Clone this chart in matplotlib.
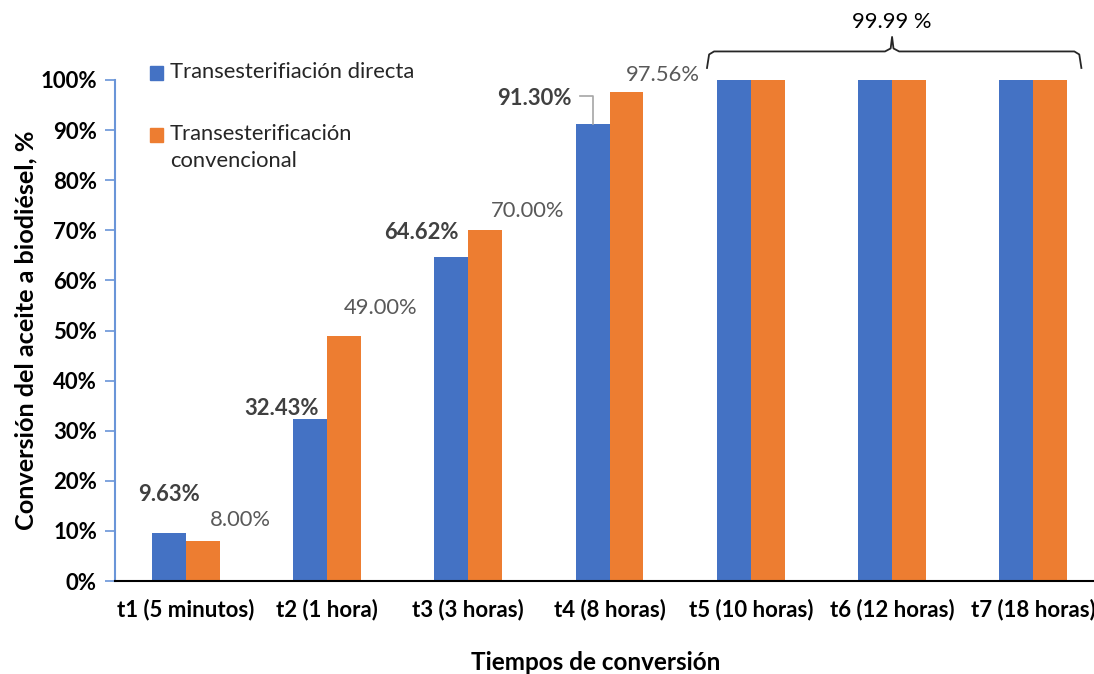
import matplotlib
matplotlib.use("Agg")
import matplotlib.pyplot as plt
from matplotlib.patches import Rectangle
import numpy as np

plt.rcParams['font.family'] = ['Lato', 'DejaVu Sans']

categories = ["t1 (5 minutos)", "t2 (1 hora)", "t3 (3 horas)", "t4 (8 horas)",
              "t5 (10 horas)", "t6 (12 horas)", "t7 (18 horas)"]
directa = [9.63, 32.43, 64.62, 91.30, 99.99, 99.99, 99.99]
convencional = [8.00, 49.00, 70.00, 97.56, 99.99, 99.99, 99.99]
series_names = ["Transesterifiación directa", "Transesterificación\nconvencional"]
yticks = [0, 10, 20, 30, 40, 50, 60, 70, 80, 90, 100]

blue = "#4472C4"
orange = "#ED7D31"
label_gray = "#404040"
text_gray = "#595959"
W, H = 1094, 674

fig = plt.figure(figsize=(W / 100, H / 100), dpi=100)
ax = fig.add_axes([115 / W, 1 - 581 / H, 989 / W, 501 / H])

x = np.arange(len(categories))
w = 0.24
ax.bar(x - w / 2, directa, w, color=blue)
ax.bar(x + w / 2, convencional, w, color=orange)

ax.set_xlim(-0.5, len(categories) - 0.5)
ax.set_ylim(0, 100)
ax.set_yticks(yticks)
ax.set_yticklabels([f"{v}%" for v in yticks], fontsize=16, fontweight='bold')
ax.set_xticks(x)
ax.set_xticklabels(categories, fontsize=16, fontweight='bold')
ax.tick_params(axis='x', length=0, pad=13)
ax.tick_params(axis='y', length=7, color="#6A95D8", width=1.2, pad=6)

for s in ['top', 'right']:
    ax.spines[s].set_visible(False)
ax.spines['left'].set_color("#6A95D8")
ax.spines['left'].set_linewidth(1.5)
ax.spines['bottom'].set_color("black")
ax.spines['bottom'].set_linewidth(1.5)

ax.set_ylabel("Conversión del aceite a biodiésel, %", fontsize=18.2, fontweight='bold')
ax.yaxis.set_label_coords((37 - 115) / 989, 0.5)
ax.set_xlabel("Tiempos de conversión", fontsize=17.5, fontweight='bold')
ax.xaxis.set_label_coords((596 - 115) / 989, (581 - 651) / 501)

# value labels for the first four times
dir_pos = [(-0.118, 17.2), (0.68, 34.5), (1.67, 69.5), (2.47, 96.4)]
conv_pos = [(0.39, 12.2), (1.38, 54.5), (2.42, 73.9), (3.38, 101.0)]
for (px, py), v in zip(dir_pos, directa[:4]):
    ax.text(px, py, f"{v:.2f}%", ha='center', va='center', fontsize=15.8,
            fontweight='bold', color=label_gray, clip_on=False)
for (px, py), v in zip(conv_pos, convencional[:4]):
    ax.text(px, py, f"{v:.2f}%", ha='center', va='center', fontsize=15.8,
            color=text_gray, clip_on=False)

# leader line for the 91.30% label
lx = x[3] - w / 2
ax.plot([lx, lx, 2.79], [directa[3], 96.8, 96.8], color="#A6A6A6", lw=1.2,
        clip_on=False)

# brace grouping t5-t7
def brace(ax, x0, x1, xm, ybase, ytop, ytip):
    r = 0.05
    xs = [x0, x0 + r * 0.3, x0 + r, xm - r, xm - r * 0.2, xm,
          xm + r * 0.2, xm + r, x1 - r, x1 - r * 0.3, x1]
    ys = [ybase, ytop - 0.6, ytop, ytop, ytop + 0.6, ytip,
          ytop + 0.6, ytop, ytop, ytop - 0.6, ybase]
    ax.plot(xs, ys, color="#262626", lw=1.3, clip_on=False,
            solid_joinstyle='round')

brace(ax, 3.69, 6.34, 5.0, 102.4, 105.7, 108.6)
ax.text(5.0, 111.6, "99.99 %", ha='center', va='center', fontsize=15.8,
        color="black", clip_on=False)

# legend: colour squares with labels
legend_rows = [(73, blue, series_names[0]), (135, orange, series_names[1])]
for yc, col, name in legend_rows:
    fig.patches.append(Rectangle((150 / W, 1 - (yc + 7) / H), 13 / W, 14 / H,
                                 transform=fig.transFigure, color=col))
    fig.text(170 / W, 1 - (yc - 11) / H, name, ha='left', va='top',
             fontsize=15.8, color="#262626", linespacing=1.45)

fig.savefig("out.png", dpi=100)
